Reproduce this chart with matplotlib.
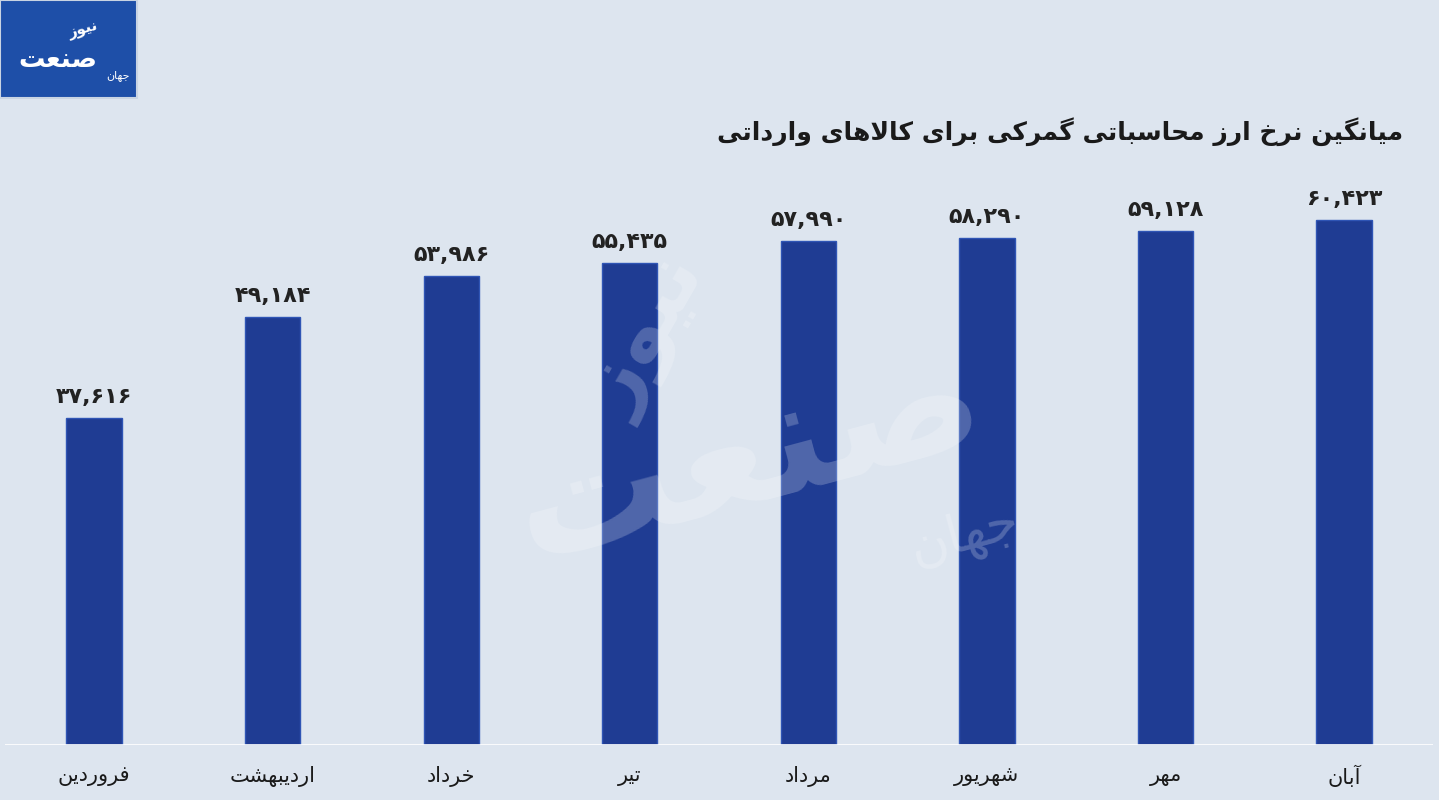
import matplotlib
matplotlib.use("Agg")
import matplotlib.pyplot as plt
from matplotlib.patches import Rectangle

months = ["فروردین", "اردیبهشت", "خرداد", "تیر", "مرداد", "شهریور", "مهر", "آبان"]
rates = [37616, 49184, 53986, 55435, 57990, 58290, 59128, 60423]
title = "میانگین نرخ ارز محاسباتی گمرکی برای کالاهای وارداتی"

BG = "#dde5ef"
BAR = "#1f3c93"

# presentation forms: isolated, final, initial, medial (None = does not join forward)
FORMS = {
    "ا": (0xFE8D, 0xFE8E, None, None), "آ": (0xFE81, 0xFE82, None, None),
    "ب": (0xFE8F, 0xFE90, 0xFE91, 0xFE92), "ت": (0xFE95, 0xFE96, 0xFE97, 0xFE98),
    "ج": (0xFE9D, 0xFE9E, 0xFE9F, 0xFEA0), "ح": (0xFEA1, 0xFEA2, 0xFEA3, 0xFEA4),
    "خ": (0xFEA5, 0xFEA6, 0xFEA7, 0xFEA8), "د": (0xFEA9, 0xFEAA, None, None),
    "ر": (0xFEAD, 0xFEAE, None, None), "ز": (0xFEAF, 0xFEB0, None, None),
    "س": (0xFEB1, 0xFEB2, 0xFEB3, 0xFEB4), "ش": (0xFEB5, 0xFEB6, 0xFEB7, 0xFEB8),
    "ص": (0xFEB9, 0xFEBA, 0xFEBB, 0xFEBC), "ع": (0xFEC9, 0xFECA, 0xFECB, 0xFECC),
    "ف": (0xFED1, 0xFED2, 0xFED3, 0xFED4), "ل": (0xFEDD, 0xFEDE, 0xFEDF, 0xFEE0),
    "م": (0xFEE1, 0xFEE2, 0xFEE3, 0xFEE4), "ن": (0xFEE5, 0xFEE6, 0xFEE7, 0xFEE8),
    "ه": (0xFEE9, 0xFEEA, 0xFEEB, 0xFEEC), "و": (0xFEED, 0xFEEE, None, None),
    "ی": (0xFBFC, 0xFBFD, 0xFBFE, 0xFBFF), "ک": (0xFB8E, 0xFB8F, 0xFB90, 0xFB91),
    "گ": (0xFB92, 0xFB93, 0xFB94, 0xFB95),
}


def joins_fwd(c):
    return c in FORMS and FORMS[c][2] is not None


def shape(text):
    """Minimal Persian shaping + reversal for left-to-right rendering."""
    text = text.replace("لا", "\uFEFB")
    out = []
    for i, c in enumerate(text):
        if c == "\uFEFB":
            prev = text[i - 1] if i > 0 else " "
            out.append("\uFEFC" if joins_fwd(prev) else "\uFEFB")
            continue
        if c not in FORMS:
            out.append(c)
            continue
        prev = text[i - 1] if i > 0 else " "
        nxt = text[i + 1] if i + 1 < len(text) else " "
        a = joins_fwd(prev)
        b = joins_fwd(c) and (nxt in FORMS or nxt == "\uFEFB")
        iso, fin, ini, med = FORMS[c]
        if a and b:
            out.append(chr(med))
        elif a:
            out.append(chr(fin))
        elif b:
            out.append(chr(ini))
        else:
            out.append(chr(iso))
    return "".join(reversed(out))


def fa_num(v):
    s = f"{v:,}"
    return s.translate(str.maketrans("0123456789", "۰۱۲۳۴۵۶۷۸۹"))


plt.rcParams["font.family"] = ["DejaVu Sans"]

fig = plt.figure(figsize=(14.39, 8), dpi=100, facecolor=BG)
ax = fig.add_axes([0.0033, 0.069, 0.9928, 0.717])
ax.set_facecolor(BG)

x = list(range(len(months)))
ax.bar(x, rates, width=0.31, color=BAR, edgecolor="#2f55b5", linewidth=1.0, zorder=3)
for xi, v in zip(x, rates):
    ax.annotate(fa_num(v), (xi, v), xytext=(0, 8), textcoords="offset points",
                ha="center", va="bottom", fontsize=16, fontweight="bold",
                color="#222222", zorder=4)

ax.set_xlim(-0.5, len(months) - 0.5)
ax.set_ylim(0, 66000)
ax.axhline(0, color="white", lw=1.2, zorder=4)
ax.set_xticks(x)
ax.set_xticklabels([shape(m) for m in months], fontsize=15, color="#1a1a1a")
ax.tick_params(axis="x", length=0, pad=15)
ax.set_yticks([])
for sp in ax.spines.values():
    sp.set_visible(False)

fig.text(0.975, 0.835, shape(title), ha="right", va="center",
         fontsize=18, fontweight="bold", color="#1a1a1a")

# logo box
fig.patches.append(Rectangle((0, 0.877), 0.095, 0.123, transform=fig.transFigure,
                             facecolor="#1e4fa8", edgecolor="#c9d4e3", lw=1.5))
fig.text(0.058, 0.963, shape("نیوز"), ha="center", va="center",
         fontsize=11, fontweight="bold", color="white", rotation=15)
fig.text(0.04, 0.925, shape("صنعت"), ha="center", va="center",
         fontsize=19, fontweight="bold", color="white")
fig.text(0.082, 0.905, shape("جهان"), ha="center", va="center",
         fontsize=8, color="white")

# faint watermark
fig.text(0.45, 0.58, shape("نیوز"), ha="center", va="center", fontsize=60,
         fontweight="bold", color="white", alpha=0.22, rotation=60, zorder=10)
fig.text(0.52, 0.43, shape("صنعت"), ha="center", va="center", fontsize=115,
         fontweight="bold", color="white", alpha=0.22, rotation=15, zorder=10)
fig.text(0.67, 0.33, shape("جهان"), ha="center", va="center", fontsize=38,
         color="white", alpha=0.22, rotation=15, zorder=10)

fig.savefig("out.png", dpi=100, facecolor=BG)
